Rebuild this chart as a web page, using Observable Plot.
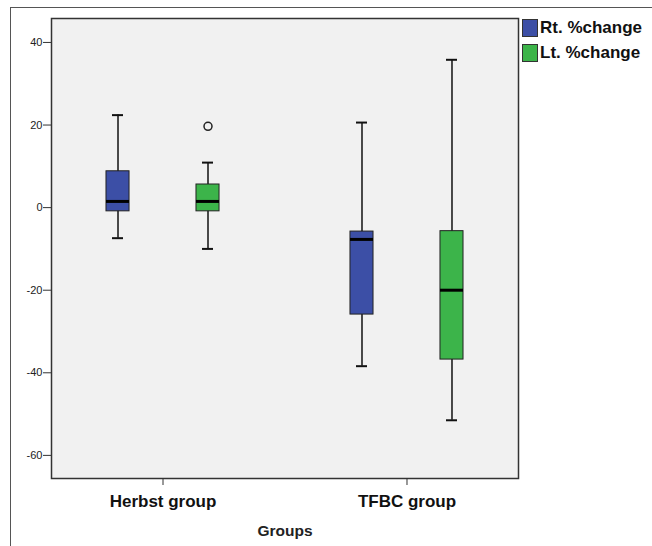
<!DOCTYPE html>
<html>
<head>
<meta charset="utf-8">
<script src="https://cdn.jsdelivr.net/npm/d3@7"></script>
<script src="https://cdn.jsdelivr.net/npm/@observablehq/plot@0.6"></script>
<style>
  html, body { margin: 0; padding: 0; background: #fff; }
  #wrap { position: relative; width: 652px; height: 546px; overflow: hidden; background: #fff; font-family: "Liberation Sans", Arial, sans-serif; }
  #outer { position: absolute; left: 10px; top: 7px; width: 700px; height: 600px; border-left: 1.5px solid #555; border-top: 1.5px solid #555; }
  #chart { position: absolute; left: 0; top: 0; }
  #legend { position: absolute; left: 522px; top: 16px; font-size: 17px; font-weight: bold; color: #111; }
  .item { display: flex; align-items: center; height: 24.5px; }
  .sw { width: 14px; height: 16px; border: 1px solid #333; margin-right: 2px; }
</style>
</head>
<body>
<div id="wrap">
  <div id="outer"></div>
  <div id="chart"></div>
  <div id="legend"></div>
</div>
<script>
// Data
const groups = ["Herbst group", "TFBC group"];
const series = ["Rt. %change", "Lt. %change"];
const seriesColors = ["#3c4fa6", "#3cb44a"];
const yTicks = [40, 20, 0, -20, -40, -60];

const boxGroup = ["Herbst group", "Herbst group", "TFBC group", "TFBC group"];
const boxSeries = ["Rt. %change", "Lt. %change", "Rt. %change", "Lt. %change"];
const lowWhisker = [-7.4, -10.0, -38.4, -51.5];
const q1 = [-0.9, -0.9, -25.9, -36.8];
const median = [1.5, 1.5, -7.7, -20.0];
const q3 = [8.8, 5.6, -5.8, -5.7];
const highWhisker = [22.4, 10.9, 20.6, 35.8];

const outlierGroup = ["Herbst group"];
const outlierSeries = ["Lt. %change"];
const outlierValue = [19.7];

const boxes = boxGroup.map((g, i) => ({
  group: g, series: boxSeries[i],
  lo: lowWhisker[i], q1: q1[i], med: median[i], q3: q3[i], hi: highWhisker[i]
}));
const outliers = outlierGroup.map((g, i) => ({group: g, series: outlierSeries[i], value: outlierValue[i]}));

const chart = Plot.plot({
  width: 652,
  height: 546,
  marginLeft: 51,
  marginRight: 134,
  marginTop: 18,
  marginBottom: 68,
  style: {fontFamily: "'Liberation Sans', Arial, sans-serif", background: "transparent", color: "#222"},
  fx: {domain: groups, paddingInner: 0.086, paddingOuter: 0, round: false},
  x: {domain: series, paddingInner: 0.744, paddingOuter: 0.611, round: false, axis: null},
  y: {domain: [-65.6, 45.8]},
  color: {domain: series, range: seriesColors},
  marks: [
    Plot.frame({fill: "#f1f1f1", stroke: "#333", strokeWidth: 1.5, facet: "super"}),
    Plot.axisY({ticks: yTicks, tickSize: 8, tickPadding: 1, fontSize: 11, tickFormat: d => String(d), label: null, stroke: "#333", fill: "#222"}),
    Plot.axisFx({anchor: "bottom", tickSize: 7, tickPadding: 9, fontSize: 17, fontWeight: "bold", label: null, stroke: "#333", fill: "#111"}),
    Plot.ruleX(boxes, {fx: "group", x: "series", y1: "lo", y2: "hi", stroke: "#111", strokeWidth: 1.5}),
    Plot.tickY(boxes, {fx: "group", x: "series", y: "lo", stroke: "#111", strokeWidth: 2, insetLeft: 6, insetRight: 6}),
    Plot.tickY(boxes, {fx: "group", x: "series", y: "hi", stroke: "#111", strokeWidth: 2, insetLeft: 6, insetRight: 6}),
    Plot.barY(boxes, {fx: "group", x: "series", y1: "q1", y2: "q3", fill: "series", stroke: "#222", strokeWidth: 1}),
    Plot.tickY(boxes, {fx: "group", x: "series", y: "med", stroke: "#000", strokeWidth: 3}),
    Plot.dot(outliers, {fx: "group", x: "series", y: "value", r: 4, stroke: "#222", strokeWidth: 1.5, fill: "none"}),
    Plot.text(["Groups"], {frameAnchor: "bottom", facet: "super", dy: 57, fontSize: 15.5, fontWeight: "bold", fill: "#222", lineAnchor: "bottom"})
  ]
});
document.getElementById("chart").appendChild(chart);

const legend = document.getElementById("legend");
series.forEach((s, i) => {
  const item = document.createElement("div");
  item.className = "item";
  const sw = document.createElement("div");
  sw.className = "sw";
  sw.style.background = seriesColors[i];
  const t = document.createElement("span");
  t.textContent = s;
  item.appendChild(sw);
  item.appendChild(t);
  legend.appendChild(item);
});
</script>
</body>
</html>
